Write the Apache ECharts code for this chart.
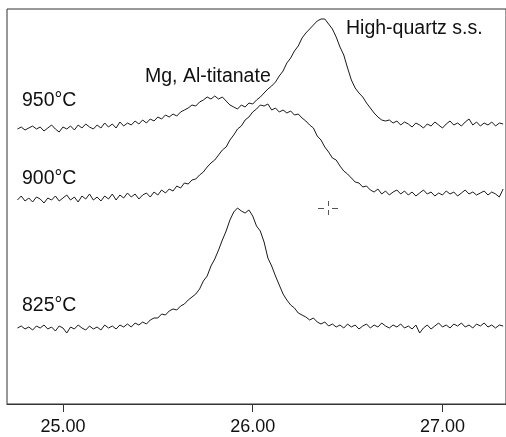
<!DOCTYPE html>
<html>
<head>
<meta charset="utf-8">
<script src="https://cdn.jsdelivr.net/npm/echarts@6/dist/echarts.min.js"></script>
<style>
  html, body { margin: 0; padding: 0; background: #fff; }
  #chart { width: 506px; height: 437px; }
</style>
</head>
<body>
<div id="chart"></div>
<script>
// 2-theta positions (deg)
var twoTheta = [
  24.76, 24.78, 24.80, 24.82, 24.84, 24.86, 24.88, 24.90, 24.92, 24.94,
  24.96, 24.98, 25.00, 25.02, 25.04, 25.06, 25.08, 25.10, 25.12, 25.14,
  25.16, 25.18, 25.20, 25.22, 25.24, 25.26, 25.28, 25.30, 25.32, 25.34,
  25.36, 25.38, 25.40, 25.42, 25.44, 25.46, 25.48, 25.50, 25.52, 25.54,
  25.56, 25.58, 25.60, 25.62, 25.64, 25.66, 25.68, 25.70, 25.72, 25.74,
  25.76, 25.78, 25.80, 25.82, 25.84, 25.86, 25.88, 25.90, 25.92, 25.94,
  25.96, 25.98, 26.00, 26.02, 26.04, 26.06, 26.08, 26.10, 26.12, 26.14,
  26.16, 26.18, 26.20, 26.22, 26.24, 26.26, 26.28, 26.30, 26.32, 26.34,
  26.36, 26.38, 26.40, 26.42, 26.44, 26.46, 26.48, 26.50, 26.52, 26.54,
  26.56, 26.58, 26.60, 26.62, 26.64, 26.66, 26.68, 26.70, 26.72, 26.74,
  26.76, 26.78, 26.80, 26.82, 26.84, 26.86, 26.88, 26.90, 26.92, 26.94,
  26.96, 26.98, 27.00, 27.02, 27.04, 27.06, 27.08, 27.10, 27.12, 27.14,
  27.16, 27.18, 27.20, 27.22, 27.24, 27.26, 27.28, 27.30, 27.32
];

// intensities (arbitrary units, traces stacked with offset)
var i825 = [
  76, 78, 75, 77, 74, 78, 76, 79, 75, 77,
  73, 78, 76, 71, 77, 75, 79, 76, 74, 78,
  75, 77, 74, 79, 76, 78, 75, 79, 77, 80,
  77, 81, 79, 82, 80, 84, 86, 86, 90, 89,
  93, 95, 94, 98, 100, 104, 107, 110, 115, 123,
  128, 138, 145, 154, 164, 173, 184, 192, 196, 193,
  191, 194, 188, 178, 173, 162, 146, 138, 128, 119,
  110, 104, 99, 96, 91, 89, 87, 84, 86, 82,
  80, 82, 78, 80, 77, 79, 76, 80, 77, 79,
  75, 78, 80, 76, 79, 77, 81, 78, 76, 79,
  77, 80, 76, 78, 75, 79, 71, 76, 79, 75,
  78, 81, 77, 79, 76, 80, 78, 81, 77, 79,
  76, 80, 78, 81, 77, 79, 76, 79, 78
];

var i900 = [
  204, 208, 203, 206, 202, 207, 205, 201, 206, 204,
  208, 203, 206, 209, 204, 207, 202, 208, 205, 210,
  204, 207, 203, 208, 205, 210, 204, 209, 206, 211,
  207, 210, 205, 209, 211, 207, 212, 209, 214, 211,
  215, 213, 218, 216, 221, 220, 224, 225, 229, 232,
  237, 241, 244, 249, 254, 257, 264, 269, 275, 278,
  284, 287, 292, 295, 299, 298, 300, 294, 296, 292,
  294, 291, 293, 289, 290, 286, 283, 279, 276, 268,
  264, 257, 252, 246, 244, 238, 233, 230, 226, 222,
  221, 217, 218, 214, 212, 215, 210, 213, 209, 212,
  214, 210, 213, 209, 212, 208, 211, 214, 210, 212,
  208, 211, 209, 213, 210, 212, 208, 211, 214, 210,
  212, 209, 211, 213, 209, 212, 210, 207, 215
];

var i950 = [
  275, 277, 274, 276, 278, 275, 277, 273, 276, 279,
  275, 272, 277, 275, 278, 274, 279, 276, 280, 277,
  275, 279, 276, 281, 277, 280, 276, 282, 278, 281,
  279, 283, 280, 284, 281, 285, 283, 287, 285, 289,
  287, 290, 288, 292, 294, 296, 299, 298, 302, 304,
  307, 305, 308, 305, 307, 303, 299, 297, 295, 299,
  297, 301, 300, 304, 307, 311, 315, 318, 322, 328,
  333, 341, 346, 353, 358, 366, 371, 375, 379, 383,
  385, 385, 380, 375, 367, 357, 349, 336, 324, 316,
  311, 307, 301, 296, 291, 287, 284, 283, 284, 281,
  283, 279, 282, 280, 277, 281, 279, 276, 280, 278,
  282, 279, 276, 280, 283, 279, 281, 278, 282, 285,
  279, 282, 278, 281, 279, 282, 278, 281, 280
];

var tickValues = [25, 26, 27];
var traceLabels = ['825°C', '900°C', '950°C'];

function pairs(vals) {
  return twoTheta.map(function(t, i) { return [t, vals[i]]; });
}

var lineStyle = { color: '#1a1a1a', width: 1 };
var font = '19.5px "Liberation Sans", Arial, sans-serif';

var option = {
  animation: false,
  backgroundColor: '#fff',
  grid: {
    left: 7, top: 9, right: -2, bottom: 33,
    show: true, borderColor: '#333', borderWidth: 1
  },
  xAxis: {
    type: 'value',
    min: 24.705,
    max: 27.335,
    axisLine: { show: true, lineStyle: { color: '#333', width: 1 } },
    axisTick: { show: true, customValues: tickValues, length: 8, inside: false, lineStyle: { color: '#333' } },
    axisLabel: {
      customValues: tickValues,
      formatter: function(v) { return v.toFixed(2); },
      fontFamily: '"Liberation Sans", Arial, sans-serif',
      fontSize: 18, color: '#111', margin: 14
    },
    splitLine: { show: false }
  },
  yAxis: {
    type: 'value', min: 0, max: 395,
    axisLine: { show: false }, axisTick: { show: false },
    axisLabel: { show: false }, splitLine: { show: false }
  },
  series: [
    { name: traceLabels[0], type: 'line', data: pairs(i825), symbol: 'none', lineStyle: lineStyle },
    { name: traceLabels[1], type: 'line', data: pairs(i900), symbol: 'none', lineStyle: lineStyle },
    { name: traceLabels[2], type: 'line', data: pairs(i950), symbol: 'none', lineStyle: lineStyle }
  ],
  graphic: [
    { type: 'text', left: 22, top: 91, style: { text: traceLabels[2], font: font, fill: '#111' } },
    { type: 'text', left: 22, top: 169, style: { text: traceLabels[1], font: font, fill: '#111' } },
    { type: 'text', left: 22, top: 296, style: { text: traceLabels[0], font: font, fill: '#111' } },
    { type: 'text', left: 145, top: 67, style: { text: 'Mg, Al-titanate', font: font, fill: '#111' } },
    { type: 'text', left: 346, top: 19, style: { text: 'High-quartz s.s.', font: font, fill: '#111' } },
    // cursor cross
    { type: 'line', shape: { x1: 318, y1: 208.5, x2: 324, y2: 208.5 }, style: { stroke: '#555', lineWidth: 1 } },
    { type: 'line', shape: { x1: 332, y1: 208.5, x2: 338, y2: 208.5 }, style: { stroke: '#555', lineWidth: 1 } },
    { type: 'line', shape: { x1: 328.5, y1: 201, x2: 328.5, y2: 206 }, style: { stroke: '#555', lineWidth: 1 } },
    { type: 'line', shape: { x1: 328.5, y1: 210, x2: 328.5, y2: 215 }, style: { stroke: '#555', lineWidth: 1 } }
  ]
};

var myChart = echarts.init(document.getElementById('chart'), null, { renderer: 'canvas' });
myChart.setOption(option);
</script>
</body>
</html>
